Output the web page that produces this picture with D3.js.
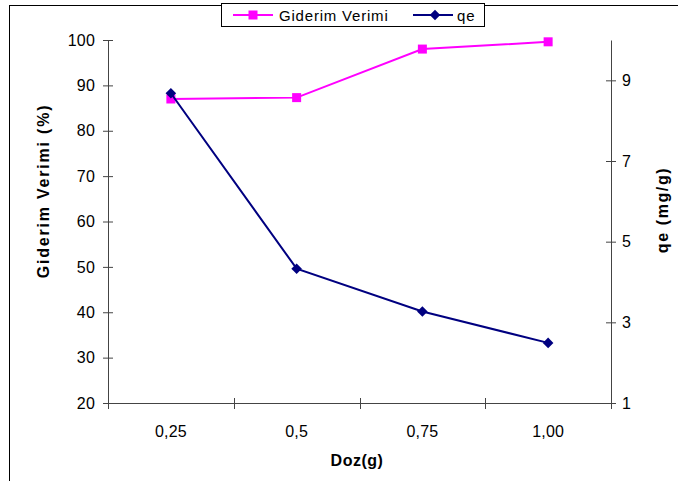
<!DOCTYPE html>
<html><head><meta charset="utf-8">
<script src="https://cdn.jsdelivr.net/npm/d3@7"></script>
<style>
body{margin:0;background:#fff;}
svg{display:block;font-family:"Liberation Sans",Arial,sans-serif;}
</style></head>
<body>
<svg id="c" width="678" height="481"></svg>
<script>
const categories = ["0,25","0,5","0,75","1,00"];
const giderim = [87.0, 87.3, 98.0, 99.6];
const qe = [8.68, 4.33, 3.27, 2.49];
const leftTicks = [20,30,40,50,60,70,80,90,100];
const rightTicks = [1,3,5,7,9];

const svg = d3.select("#c");
const L = 108, R = 611, T = 40, B = 403;
const axisColor = "#444";

const x = d3.scaleBand().domain(categories).range([L, R]).padding(0);
const yL = d3.scaleLinear().domain([20,100]).range([B, T]);
const yR = d3.scaleLinear().domain([1,10]).range([B, T]);
const cx = d => x(d) + x.bandwidth()/2;

// outer border
svg.append("rect").attr("x",9.5).attr("y",5.5).attr("width",700).attr("height",500)
  .attr("fill","none").attr("stroke","#000").attr("stroke-width",1);

// left axis
const gl = svg.append("g").attr("transform",`translate(${L},0)`)
  .call(d3.axisLeft(yL).tickValues(leftTicks).tickSize(5).tickPadding(8).tickSizeOuter(0));
gl.selectAll(".tick").append("line").attr("x1",0).attr("x2",5).attr("stroke",axisColor);
// right axis
const gr = svg.append("g").attr("transform",`translate(${R},0)`)
  .call(d3.axisRight(yR).tickValues(rightTicks).tickSize(5).tickPadding(6).tickSizeOuter(0));
gr.selectAll(".tick").append("line").attr("x1",0).attr("x2",-5).attr("stroke",axisColor);
// bottom axis (labels)
const gb = svg.append("g").attr("transform",`translate(0,${B})`)
  .call(d3.axisBottom(x).tickSize(0).tickPadding(23));
gb.select(".domain").remove();
svg.append("line").attr("x1",L).attr("x2",R).attr("y1",B+0.5).attr("y2",B+0.5).attr("stroke",axisColor);
// boundary ticks
const bounds = categories.map(c => x(c)).concat([x(categories[categories.length-1]) + x.step()]);
svg.selectAll("line.bt").data(bounds).enter().append("line").attr("class","bt")
  .attr("x1",d=>Math.round(d)+0.5).attr("x2",d=>Math.round(d)+0.5)
  .attr("y1",B-5).attr("y2",B+6).attr("stroke",axisColor);

[gl,gr,gb].forEach(g=>{
  g.selectAll(".domain").attr("stroke",axisColor);
  g.selectAll(".tick line").attr("stroke",axisColor);
  g.selectAll("text").attr("font-size",16).attr("fill","#000")
   .attr("font-family","'Liberation Sans',Arial,sans-serif").style("letter-spacing","0.2px");
});

// axis titles
svg.append("text").attr("transform","translate(49,191) rotate(-90)")
  .attr("text-anchor","middle").attr("font-size",16).attr("font-weight","bold")
  .style("letter-spacing","1.8px").text("Giderim Verimi (%)");
svg.append("text").attr("transform","translate(668,210) rotate(-90)")
  .attr("text-anchor","middle").attr("font-size",16).attr("font-weight","bold")
  .style("letter-spacing","1.6px").text("qe (mg/g)");
svg.append("text").attr("x",357).attr("y",466)
  .attr("text-anchor","middle").attr("font-size",16).attr("font-weight","bold")
  .style("letter-spacing","0.5px").text("Doz(g)");

// series
const mag = "#FF00FF", navy = "#000080";
const lineL = d3.line().x((d,i)=>cx(categories[i])).y(d=>yL(d));
const lineR = d3.line().x((d,i)=>cx(categories[i])).y(d=>yR(d));
svg.append("path").datum(giderim).attr("d",lineL).attr("fill","none").attr("stroke",mag).attr("stroke-width",2);
svg.selectAll("rect.gm").data(giderim).enter().append("rect").attr("class","gm")
  .attr("x",(d,i)=>cx(categories[i])-4.5).attr("y",d=>yL(d)-4.5)
  .attr("width",9).attr("height",9).attr("fill",mag);
svg.append("path").datum(qe).attr("d",lineR).attr("fill","none").attr("stroke",navy).attr("stroke-width",2);
svg.selectAll("path.qm").data(qe).enter().append("path").attr("class","qm")
  .attr("transform",(d,i)=>`translate(${cx(categories[i])},${yR(d)}) rotate(45)`)
  .attr("d",d3.symbol().type(d3.symbolSquare).size(56)).attr("fill",navy);

// legend
const lg = svg.append("g");
lg.append("rect").attr("x",221.5).attr("y",3.5).attr("width",263).attr("height",23)
  .attr("fill","#fff").attr("stroke","#000");
const ly = 15;
lg.append("line").attr("x1",233).attr("x2",273).attr("y1",ly).attr("y2",ly).attr("stroke",mag).attr("stroke-width",2);
lg.append("rect").attr("x",253-4.5).attr("y",ly-4.5).attr("width",9).attr("height",9).attr("fill",mag);
lg.append("text").attr("x",279).attr("y",ly+5.5).attr("font-size",15).style("letter-spacing","0.8px").text("Giderim Verimi");
lg.append("line").attr("x1",413).attr("x2",453).attr("y1",ly).attr("y2",ly).attr("stroke",navy).attr("stroke-width",2);
lg.append("path").attr("transform",`translate(435,${ly}) rotate(45)`)
  .attr("d",d3.symbol().type(d3.symbolSquare).size(56)).attr("fill",navy);
lg.append("text").attr("x",457).attr("y",ly+5.5).attr("font-size",15).style("letter-spacing","0.8px").text("qe");
</script>
</body></html>
